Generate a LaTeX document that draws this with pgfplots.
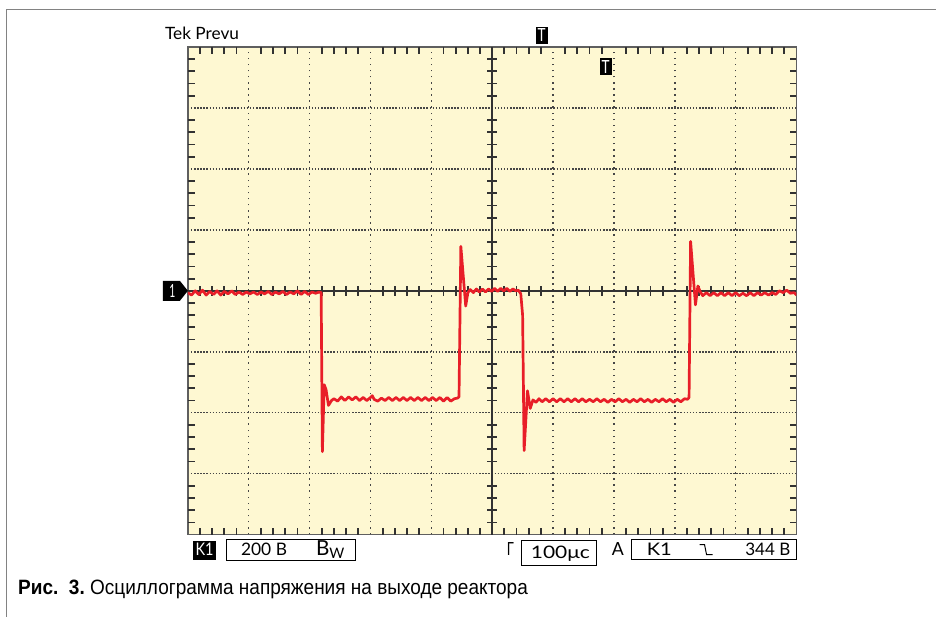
\documentclass[border=0pt]{standalone}
\usepackage{pgfplots}
\pgfplotsset{compat=1.18}
\usepackage{fontspec}
\setmainfont{Lato}
\newfontfamily\capfont{Liberation Sans}
\definecolor{scopebg}{RGB}{254,248,210}
\definecolor{tracec}{RGB}{232,30,40}
\definecolor{borderc}{RGB}{95,95,95}
\definecolor{centerc}{RGB}{50,50,50}
\definecolor{gridc}{RGB}{70,70,70}
\definecolor{framec}{RGB}{130,130,130}
\pgfplotsset{scope/.style={
  at={(188pt,82pt)}, anchor=south west, scale only axis,
  width=609pt, height=488pt,
  xmin=-5, xmax=5, ymin=-4, ymax=4,
  xtick={-5,...,5}, ytick={-4,...,4},
  xticklabels={}, yticklabels={},
  major tick length=0pt}}
\begin{document}
\begin{tikzpicture}[x=1pt,y=1pt]
\path (0,0) rectangle (937,617);
\draw[framec, line width=1.2pt] (6.7,0) -- (6.7,607.7) -- (937,607.7);
% screen: background, dotted grid, border
\begin{axis}[scope,
  axis background/.style={fill=scopebg},
  axis line style={draw=borderc, line width=1.5pt},
  grid=major,
  x grid style={draw=gridc, line width=1.5pt, dash pattern=on 1.5pt off 4.6pt},
  y grid style={draw=gridc, line width=1.5pt, dash pattern=on 1.5pt off 1.6pt},
]
\addplot[draw=none] coordinates {(0,0)};
\end{axis}
% graticule ticks: every 1/5 division, on the four edges and on the centre cross
\begin{scope}[draw=centerc, line width=1.8pt]
\foreach \i in {1,...,49}{
  \pgfmathtruncatemacro\r{mod(\i,5)}
  \ifnum\r>0
    \pgfmathsetmacro\xx{188+12.18*\i}
    \draw (\xx,82) -- (\xx,89);
    \draw (\xx,570) -- (\xx,563);
    \draw (\xx,321) -- (\xx,331);
  \fi}
\foreach \j in {1,...,39}{
  \pgfmathtruncatemacro\r{mod(\j,5)}
  \ifnum\r>0
    \pgfmathsetmacro\yy{82+12.2*\j}
    \draw (188,\yy) -- (195,\yy);
    \draw (797,\yy) -- (790,\yy);
    \draw (487.5,\yy) -- (497.5,\yy);
  \fi}
\end{scope}
% centre cross and the trace
\begin{axis}[scope,
  axis lines=middle,
  axis line style={-, draw=centerc, line width=1.8pt},
]
\addplot[color=tracec, line width=2.7pt, line join=round] coordinates {
(-5.00,-0.03) (-4.94,-0.07) (-4.88,0.00) (-4.82,-0.06) (-4.76,0.01) (-4.70,-0.07)
(-4.64,-0.01) (-4.58,-0.06) (-4.52,0.00) (-4.46,-0.07) (-4.40,-0.01) (-4.34,-0.05)
(-4.28,0.00) (-4.22,-0.06) (-4.16,-0.02) (-4.10,-0.06) (-4.04,-0.02) (-3.98,-0.05)
(-3.92,-0.02) (-3.86,-0.06) (-3.80,-0.02) (-3.74,-0.05) (-3.68,-0.01) (-3.62,-0.06)
(-3.56,-0.02) (-3.50,-0.05) (-3.44,-0.01) (-3.38,-0.06) (-3.32,-0.02) (-3.26,-0.05)
(-3.20,0.00) (-3.14,-0.06) (-3.08,-0.01) (-3.02,-0.06) (-2.96,-0.02) (-2.90,-0.04)
(-2.84,-0.02) (-2.81,-0.03)
(-2.79,-2.64) (-2.76,-1.54) (-2.73,-1.62) (-2.69,-1.88) (-2.64,-1.80)
(-2.60,-1.77) (-2.54,-1.81) (-2.48,-1.74) (-2.42,-1.80) (-2.36,-1.74) (-2.30,-1.79)
(-2.24,-1.74) (-2.18,-1.80) (-2.12,-1.75) (-2.06,-1.80) (-2.00,-1.75) (-1.97,-1.72)
(-1.94,-1.78) (-1.88,-1.81) (-1.82,-1.76) (-1.76,-1.80) (-1.70,-1.75) (-1.64,-1.80)
(-1.58,-1.75) (-1.52,-1.80) (-1.46,-1.75) (-1.40,-1.80) (-1.34,-1.75) (-1.28,-1.80)
(-1.22,-1.75) (-1.16,-1.80) (-1.10,-1.75) (-1.04,-1.80) (-0.98,-1.75) (-0.92,-1.80)
(-0.86,-1.75) (-0.80,-1.81) (-0.74,-1.75) (-0.68,-1.81) (-0.62,-1.77) (-0.57,-1.76)
(-0.545,-1.74)
(-0.515,0.73) (-0.435,-0.25) (-0.40,-0.03)
(-0.36,0.02) (-0.31,-0.03) (-0.26,0.03) (-0.21,-0.02) (-0.16,0.03) (-0.11,-0.02)
(-0.06,0.03) (-0.01,-0.01) (0.04,0.04) (0.09,-0.01) (0.14,0.04) (0.19,0.00)
(0.24,0.04) (0.29,-0.01) (0.34,0.03) (0.39,0.00) (0.43,0.01) (0.47,-0.05)
(0.50,-0.40) (0.525,-2.62) (0.58,-1.64) (0.625,-1.93) (0.67,-1.79) (0.72,-1.83)
(0.77,-1.77) (0.82,-1.82) (0.88,-1.77) (0.94,-1.82) (1.00,-1.77) (1.06,-1.82)
(1.12,-1.77) (1.18,-1.82) (1.24,-1.77) (1.30,-1.82) (1.36,-1.77) (1.42,-1.82)
(1.48,-1.77) (1.54,-1.82) (1.60,-1.78) (1.66,-1.82) (1.72,-1.77) (1.78,-1.82)
(1.84,-1.78) (1.90,-1.83) (1.96,-1.78) (2.02,-1.82) (2.08,-1.77) (2.14,-1.82)
(2.20,-1.78) (2.26,-1.83) (2.32,-1.78) (2.38,-1.82) (2.44,-1.77) (2.50,-1.82)
(2.56,-1.78) (2.62,-1.83) (2.68,-1.78) (2.74,-1.82) (2.80,-1.77) (2.86,-1.82)
(2.92,-1.78) (2.98,-1.83) (3.04,-1.78) (3.10,-1.82) (3.16,-1.77) (3.21,-1.78)
(3.235,-1.75)
(3.26,0.81) (3.34,-0.23) (3.38,0.08) (3.42,-0.02) (3.46,-0.08) (3.52,-0.03)
(3.58,-0.08) (3.64,-0.03) (3.70,-0.08) (3.76,-0.03) (3.82,-0.08) (3.88,-0.03)
(3.94,-0.08) (4.00,-0.03) (4.06,-0.08) (4.12,-0.04) (4.18,-0.08) (4.24,-0.03)
(4.30,-0.08) (4.36,-0.03) (4.42,-0.07) (4.48,-0.03) (4.54,-0.07) (4.60,-0.03)
(4.66,-0.06) (4.72,0.00) (4.78,-0.03) (4.84,0.01) (4.90,-0.04) (4.96,-0.03)
(5.00,-0.07)
};
\end{axis}
% header
\node[anchor=base west, inner sep=0pt] at (165,577) {\resizebox{74pt}{12.5pt}{Tek Prevu}};
\fill[black] (536,573) rectangle (548,590);
\node[text=white, inner sep=0pt] at (542,581.5) {\resizebox{8pt}{13pt}{T}};
\fill[black] (600,541.5) rectangle (612,559);
\node[text=white, inner sep=0pt] at (606,550.3) {\resizebox{8pt}{13pt}{T}};
% channel marker
\fill[black] (163,336) -- (180,336) -- (188,326) -- (180,316) -- (163,316) -- cycle;
\node[text=white, inner sep=0pt] at (172.5,326) {\resizebox{6pt}{13pt}{1}};
% bottom status line
\fill[black] (193,57) rectangle (216,76);
\node[anchor=base west, text=white, inner sep=0pt] at (195.5,61) {\resizebox{18pt}{12.5pt}{K1}};
\draw[line width=0.9pt] (227,56) rectangle (356,77);
\node[anchor=base west, inner sep=0pt] at (241,61) {\resizebox{46pt}{12.5pt}{200 В}};
\node[anchor=base west, inner sep=0pt, font=\fontsize{17}{17}\selectfont] at (316,61) {\resizebox{29pt}{!}{B\textsubscript{W}}};
\node[anchor=base west, inner sep=0pt] at (507,61) {\resizebox{7pt}{13pt}{Г}};
\draw[line width=0.9pt] (522,51) rectangle (597,76);
\node[anchor=base west, inner sep=0pt] at (531,58) {\resizebox{59pt}{12.5pt}{100μс}};
\node[anchor=base west, inner sep=0pt] at (612,61) {\resizebox{12pt}{13pt}{A}};
\draw[line width=0.9pt] (632,57) rectangle (797,77);
\node[anchor=base west, inner sep=0pt] at (647,61) {\resizebox{25pt}{12.5pt}{K1}};
\draw[line width=1pt] (700,72) -- (705,72) -- (707,62) -- (713,62);
\node[anchor=base east, inner sep=0pt] at (791,61) {\resizebox{45pt}{12.5pt}{344 В}};
% caption
\node[anchor=base west, inner sep=0pt] at (18,22) {\resizebox{510pt}{14.5pt}{\capfont\textbf{Рис.\ \ 3.}\ Осциллограмма напряжения на выходе реактора}};
\end{tikzpicture}
\end{document}
